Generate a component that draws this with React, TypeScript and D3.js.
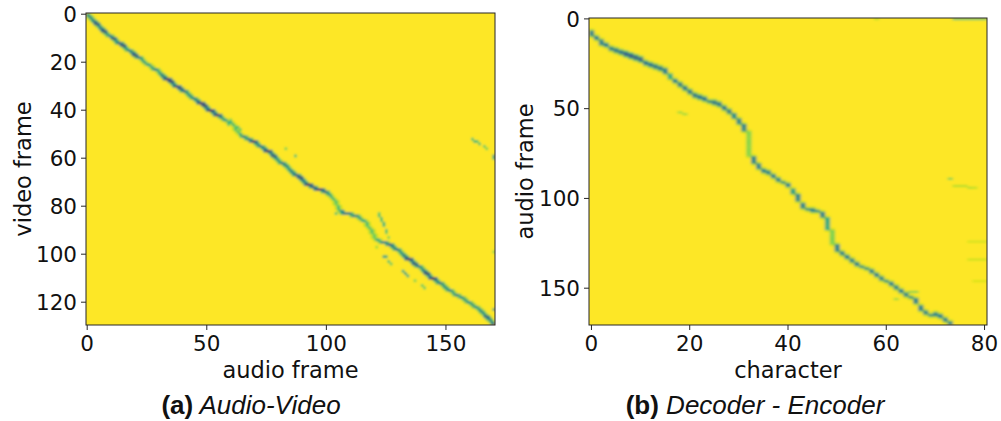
import React from "react";
import * as d3 from "d3";

// ---- (a) Audio-Video: strongest audio frame for every video frame (0..129)
const avPeak = [
  0, 1, 2, 3, 4, 5, 6, 7, 8, 10, 11, 12, 14, 15, 16, 18, 19, 20, 22, 23,
  24, 26, 27, 29, 30, 31, 32, 34, 35, 36, 38, 39, 41, 42, 43, 45, 46, 48, 49, 50,
  52, 53, 55, 56, 58, 60, 61, 62, 62, 63, 64, 66, 68, 70, 71, 73, 74, 76, 77, 78,
  79, 80, 82, 83, 84, 85, 86, 88, 89, 90, 91, 93, 95, 98, 100, 101, 102, 103, 104, 104,
  105, 105, 106, 110, 113, 114, 116, 117, 117, 118, 119, 119, 120, 120, 122, 125, 127, 128, 130, 131,
  132, 133, 135, 136, 137, 139, 140, 141, 142, 143, 145, 146, 148, 149, 150, 152, 153, 155, 157, 158,
  160, 161, 163, 164, 165, 166, 167, 168, 169, 170,
];
// attention level along that path (0 = strongest / darkest, 1 = none)
const avLevel = [
  0.45, 0.4, 0.45, 0.3, 0.15, 0.4, 0.3, 0.12, 0.4, 0.45, 0.15, 0.4, 0.3, 0.12, 0.4, 0.45, 0.3, 0.12, 0.4, 0.5,
  0.5, 0.55, 0.5, 0.45, 0.5, 0.4, 0.3, 0.12, 0.1, 0.35, 0.2, 0.15, 0.35, 0.45, 0.4, 0.45, 0.3, 0.15, 0.1, 0.3,
  0.1, 0.3, 0.15, 0.4, 0.55, 0.6, 0.65, 0.7, 0.7, 0.7, 0.55, 0.45, 0.4, 0.15, 0.35, 0.4, 0.3, 0.12, 0.35, 0.15,
  0.4, 0.45, 0.4, 0.35, 0.45, 0.4, 0.35, 0.3, 0.1, 0.3, 0.35, 0.1, 0.3, 0.15, 0.35, 0.45, 0.6, 0.65, 0.7, 0.75,
  0.7, 0.65, 0.5, 0.4, 0.45, 0.5, 0.6, 0.65, 0.7, 0.7, 0.7, 0.72, 0.75, 0.75, 0.6, 0.45, 0.3, 0.35, 0.4, 0.45,
  0.4, 0.3, 0.12, 0.35, 0.15, 0.4, 0.45, 0.3, 0.1, 0.35, 0.1, 0.35, 0.4, 0.45, 0.4, 0.45, 0.5, 0.45, 0.5, 0.45,
  0.5, 0.45, 0.5, 0.45, 0.4, 0.45, 0.2, 0.35, 0.45, 0.2,
];
// side blobs: [audio frame, video frame, level]
const avExtra: [number, number, number][] = [
  [59, 46, 0.75], [63, 47, 0.7], [64, 48, 0.75], [60, 44, 0.8],
  [83, 56, 0.8], [87, 59, 0.7],
  [104, 83, 0.7], [107, 82, 0.5], [108, 83, 0.5], [109, 83, 0.5], [111, 84, 0.5],
  [122, 83, 0.75], [122, 84, 0.7], [123, 85, 0.7], [123, 86, 0.7], [124, 87, 0.65],
  [124, 88, 0.65], [125, 90, 0.7], [125, 91, 0.75], [126, 93, 0.8],
  [121, 97, 0.85],
  [124, 101, 0.55], [125, 101, 0.6], [126, 103, 0.7], [127, 104, 0.75],
  [132, 107, 0.6], [133, 108, 0.55], [134, 109, 0.6], [137, 111, 0.8],
  [140, 113, 0.75], [141, 114, 0.75],
  [161, 52, 0.7], [162, 53, 0.65], [163, 53, 0.7], [164, 54, 0.7], [166, 55, 0.75],
  [167, 56, 0.8], [170, 59, 0.5], [170, 60, 0.6], [170, 99, 0.8], [170, 123, 0.5],
];

// ---- (b) Decoder - Encoder: audio frame span attended by each character (0..73)
const deStart = [
  7, 10, 12, 14, 16, 17, 18, 19, 20, 21, 22, 24, 25, 26, 27, 28, 31, 34, 36, 38,
  40, 42, 43, 44, 46, 46, 47, 49, 51, 53, 56, 59, 63, 77, 81, 84, 85, 87, 89, 91,
  92, 95, 98, 103, 106, 106, 107, 108, 111, 118, 126, 130, 132, 134, 136, 138, 139, 140, 142, 144,
  146, 147, 149, 151, 153, 155, 156, 160, 163, 165, 164, 165, 167, 169,
];
const deEnd = [
  9, 11, 14, 15, 17, 18, 19, 20, 21, 22, 23, 25, 26, 27, 28, 30, 33, 35, 37, 39,
  41, 43, 44, 45, 46, 47, 48, 50, 52, 55, 58, 62, 76, 80, 83, 85, 86, 88, 90, 91,
  93, 97, 101, 105, 106, 107, 107, 110, 117, 125, 129, 131, 133, 135, 137, 138, 139, 141, 143, 145,
  146, 148, 150, 152, 154, 155, 158, 162, 164, 165, 165, 166, 168, 170,
];
const deLevel = [
  0.45, 0.45, 0.45, 0.45, 0.45, 0.4, 0.4, 0.3, 0.28, 0.3, 0.3, 0.4, 0.4, 0.4, 0.4, 0.45, 0.6, 0.45, 0.4, 0.4,
  0.4, 0.4, 0.4, 0.4, 0.4, 0.4, 0.4, 0.4, 0.4, 0.5, 0.45, 0.45, 0.82, 0.45, 0.45, 0.45, 0.45, 0.45, 0.45, 0.45,
  0.45, 0.55, 0.45, 0.45, 0.45, 0.45, 0.45, 0.45, 0.6, 0.8, 0.45, 0.45, 0.45, 0.45, 0.45, 0.45, 0.45, 0.45, 0.45, 0.45,
  0.45, 0.45, 0.45, 0.45, 0.45, 0.45, 0.45, 0.45, 0.45, 0.45, 0.45, 0.45, 0.45, 0.45,
];
// faint spots: [character, audio frame, level]
const deExtra: [number, number, number][] = [
  [18, 52, 0.85], [19, 53, 0.85],
  [74, 0, 0.7], [75, 0, 0.7], [76, 0, 0.7], [77, 0, 0.7], [78, 0, 0.7], [79, 0, 0.7], [80, 0, 0.72],
  [58, 0, 0.9],
  [73, 89, 0.8], [74, 93, 0.88], [75, 93, 0.88], [76, 93, 0.88], [77, 94, 0.88], [78, 94, 0.9],
  [77, 124, 0.93], [78, 124, 0.93], [79, 124, 0.93], [80, 124, 0.93],
  [77, 134, 0.92], [78, 134, 0.92], [79, 134, 0.92], [80, 134, 0.92],
  [78, 146, 0.94], [79, 146, 0.94], [80, 146, 0.94],
  [65, 152, 0.8], [66, 152, 0.8], [62, 156, 0.85],
];

const avTicksX = [0, 50, 100, 150];
const avTicksY = [0, 20, 40, 60, 80, 100, 120];
const deTicksX = [0, 20, 40, 60, 80];
const deTicksY = [0, 50, 100, 150];

type Cell = { c: number; r: number; v: number };

function collect(list: Cell[]): Cell[] {
  const m = new Map<string, Cell>();
  list.forEach((d) => {
    const k = d.c + "," + d.r;
    const old = m.get(k);
    if (!old || d.v < old.v) m.set(k, d);
  });
  return Array.from(m.values()).sort((a, b) => b.v - a.v);
}

function avCells(): Cell[] {
  const out: Cell[] = [];
  avPeak.forEach((p, r) => {
    const s = r === 0 ? p : Math.min(avPeak[r - 1] + 1, p);
    for (let c = s; c <= p; c++) out.push({ c, r, v: avLevel[r] });
    out.push({ c: s - 1, r, v: Math.min(0.9, avLevel[r] + 0.35) });
    out.push({ c: p + 1, r, v: Math.min(0.9, avLevel[r] + 0.35) });
  });
  avExtra.forEach(([c, r, v]) => out.push({ c, r, v }));
  return collect(out.filter((d) => d.c >= 0 && d.c <= 170));
}

function deCells(): Cell[] {
  const out: Cell[] = [];
  deStart.forEach((s, c) => {
    for (let r = s; r <= deEnd[c]; r++) out.push({ c, r, v: deLevel[c] });
    out.push({ c, r: s - 1, v: Math.min(0.94, deLevel[c] + 0.45) });
    out.push({ c, r: deEnd[c] + 1, v: Math.min(0.94, deLevel[c] + 0.45) });
  });
  deExtra.forEach(([c, r, v]) => out.push({ c, r, v }));
  return collect(out.filter((d) => d.r >= 0 && d.r <= 170));
}

const tickFont = "'DejaVu Sans', sans-serif";

type PanelProps = {
  id: string;
  left: number;
  top: number;
  width: number;
  height: number;
  nCols: number;
  nRows: number;
  cells: Cell[];
  xTicks: number[];
  yTicks: number[];
  xLabel: string;
  yLabel: string;
  yLabelX: number;
  tag: string;
  title: string;
  captionX: number;
  blur: string;
};

const Panel = (p: PanelProps) => {
  const x = d3.scaleLinear().domain([-0.5, p.nCols - 0.5]).range([p.left, p.left + p.width]);
  const y = d3.scaleLinear().domain([-0.5, p.nRows - 0.5]).range([p.top, p.top + p.height]);
  const cw = p.width / p.nCols;
  const ch = p.height / p.nRows;
  const bottom = p.top + p.height;
  return (
    <g>
      <defs>
        <clipPath id={"clip-" + p.id}>
          <rect x={p.left} y={p.top} width={p.width} height={p.height} />
        </clipPath>
        <filter id={"blur-" + p.id} filterUnits="userSpaceOnUse" x={p.left - 20} y={p.top - 20} width={p.width + 40} height={p.height + 40}>
          <feGaussianBlur stdDeviation={p.blur} />
        </filter>
      </defs>
      <g clipPath={`url(#clip-${p.id})`}>
        <g filter={`url(#blur-${p.id})`}>
          <rect x={p.left - 15} y={p.top - 15} width={p.width + 30} height={p.height + 30} fill={d3.interpolateViridis(1)} />
          {p.cells.map((d, i) => (
            <rect key={i} x={x(d.c - 0.5)} y={y(d.r - 0.5)} width={cw + 0.3} height={ch + 0.3} fill={d3.interpolateViridis(d.v)} />
          ))}
        </g>
      </g>
      <rect x={p.left} y={p.top} width={p.width} height={p.height} fill="none" stroke="#262626" strokeWidth={1} />
      {p.xTicks.map((t) => (
        <g key={"x" + t}>
          <line x1={x(t)} x2={x(t)} y1={bottom} y2={bottom + 5} stroke="#262626" />
          <text x={x(t)} y={bottom + 26} textAnchor="middle" fontFamily={tickFont} fontSize={21.5} fill="#111">
            {t}
          </text>
        </g>
      ))}
      {p.yTicks.map((t) => (
        <g key={"y" + t}>
          <line x1={p.left - 5} x2={p.left} y1={y(t)} y2={y(t)} stroke="#262626" />
          <text x={p.left - 9} y={y(t)} dy="0.36em" textAnchor="end" fontFamily={tickFont} fontSize={21.5} fill="#111">
            {t}
          </text>
        </g>
      ))}
      <text x={p.left + p.width / 2} y={378} textAnchor="middle" fontFamily={tickFont} fontSize={22.5} fill="#111">
        {p.xLabel}
      </text>
      <text
        transform={`translate(${p.yLabelX},${p.top + p.height / 2}) rotate(-90)`}
        textAnchor="middle"
        fontFamily={tickFont}
        fontSize={22.5}
        fill="#111"
      >
        {p.yLabel}
      </text>
      <text x={p.captionX} y={414} textAnchor="middle" fontFamily="'Liberation Sans', Arial, sans-serif" fontSize={26} fill="#111">
        <tspan fontWeight="bold">{p.tag}</tspan>
        <tspan fontStyle="italic">{" " + p.title}</tspan>
      </text>
    </g>
  );
};

export default function App() {
  const a = avCells();
  const b = deCells();
  return (
    <svg width={1001} height={421} style={{ position: "absolute", left: 0, top: 0, background: "#fff" }}>
      <Panel
        id="a"
        left={86}
        top={13}
        width={409}
        height={312}
        nCols={171}
        nRows={130}
        cells={a}
        xTicks={avTicksX}
        yTicks={avTicksY}
        xLabel="audio frame"
        yLabel="video frame"
        yLabelX={31}
        tag="(a)"
        title="Audio-Video"
        captionX={251}
        blur="0.8"
      />
      <Panel
        id="b"
        left={589}
        top={18}
        width={398}
        height={307}
        nCols={81}
        nRows={171}
        cells={b}
        xTicks={deTicksX}
        yTicks={deTicksY}
        xLabel="character"
        yLabel="audio frame"
        yLabelX={533}
        tag="(b)"
        title="Decoder - Encoder"
        captionX={755}
        blur="1.4 1.1"
      />
    </svg>
  );
}
